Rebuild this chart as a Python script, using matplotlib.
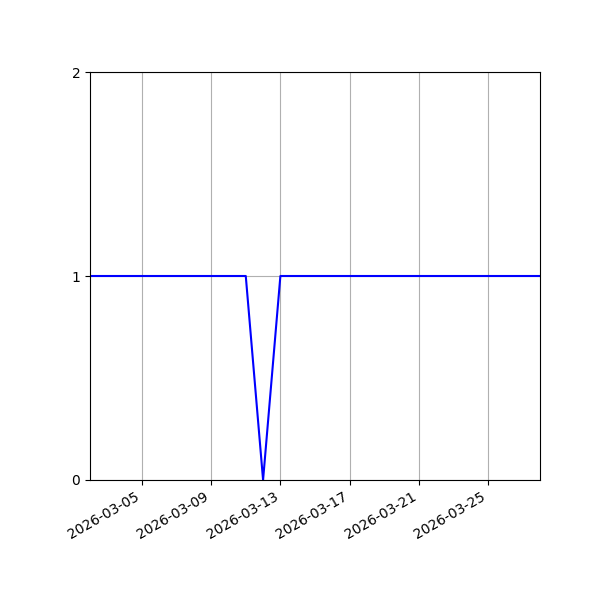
import datetime as dt
import matplotlib
matplotlib.use("Agg")
import matplotlib.pyplot as plt
import matplotlib.dates as mdates

# Datos: un valor por dia, del 2026-03-02 al 2026-03-28
start = dt.date(2026, 3, 2)
days = [start + dt.timedelta(days=i) for i in range(27)]
values = [1] * 27
values[10] = 0  # 2026-03-12

tick_dates = [dt.date(2026, 3, d) for d in (5, 9, 13, 17, 21, 25)]
y_ticks = [0, 1, 2]

fig, ax = plt.subplots(figsize=(6, 6), dpi=100)
ax.plot(days, values, color="blue")

ax.set_xlim(days[0], days[-1])
ax.set_ylim(0, 2)
ax.set_yticks(y_ticks)
ax.set_xticks(tick_dates)
ax.xaxis.set_major_formatter(mdates.DateFormatter("%Y-%m-%d"))
ax.grid(True)

fig.autofmt_xdate()
fig.subplots_adjust(left=0.15, right=0.9, top=0.88, bottom=0.2)
fig.savefig("out.png")
